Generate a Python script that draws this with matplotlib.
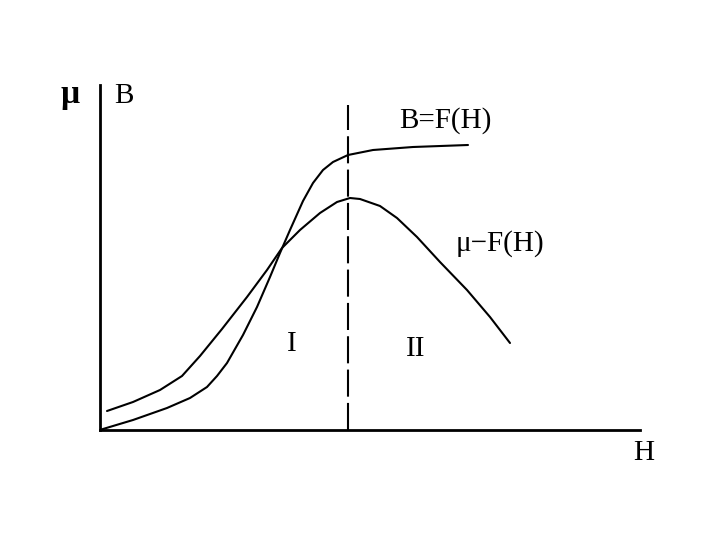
import matplotlib.pyplot as plt

# values (H along x, curve height above the H axis)
h_b = [0, 3, 33, 67, 90, 107, 117, 127, 143, 157, 170, 180, 190, 203, 213,
       223, 233, 248, 273, 313, 368]
b_vals = [0, 1, 10, 22, 32, 43, 54, 67, 95, 123, 153, 177, 200, 229, 247,
          260, 268, 275, 280, 283, 285]

h_mu = [7, 33, 60, 82, 100, 122, 147, 167, 182, 200, 220, 237, 250, 260, 280,
        297, 317, 340, 367, 390, 410]
mu_vals = [19, 28, 40, 54, 74, 101, 133, 160, 182, 200, 217, 228, 232, 231, 224,
           212, 193, 168, 140, 113, 87]

h_split = 248
split_top = 325

fig = plt.figure(figsize=(7.2, 5.4), dpi=100)
ax = fig.add_axes([100 / 720, 110 / 540, 540 / 720, 345 / 540])
ax.set_xlim(0, 540)
ax.set_ylim(0, 345)
ax.axis("off")

ax.plot(h_b, b_vals, color="black", lw=1.5, solid_capstyle="round",
        solid_joinstyle="round")
ax.plot(h_mu, mu_vals, color="black", lw=1.5, solid_capstyle="round",
        solid_joinstyle="round")
ax.plot([h_split, h_split], [0, split_top], color="black", lw=1.5,
        dashes=(13, 3))

# axes
ax.plot([0, 0], [0, 345], color="black", lw=2, clip_on=False)
ax.plot([0, 540], [0, 0], color="black", lw=2, clip_on=False)

serif = "Liberation Serif"
ax.text(-30, 335, "μ", fontsize=24, fontweight="bold", family=serif,
        ha="center", va="center")
ax.text(24, 334, "B", fontsize=21, family=serif, ha="center", va="center")
ax.text(345, 309, "B=F(H)", fontsize=21, family=serif, ha="center", va="center")
ax.text(400, 186, "μ−F(H)", fontsize=21, family=serif, ha="center", va="center")
ax.text(192, 86, "I", fontsize=21, family=serif, ha="center", va="center")
ax.text(316, 81, "II", fontsize=21, family=serif, ha="center", va="center")
ax.text(544, -23, "H", fontsize=21, family=serif, ha="center", va="center")

fig.savefig("out.png", dpi=100, facecolor="white")
